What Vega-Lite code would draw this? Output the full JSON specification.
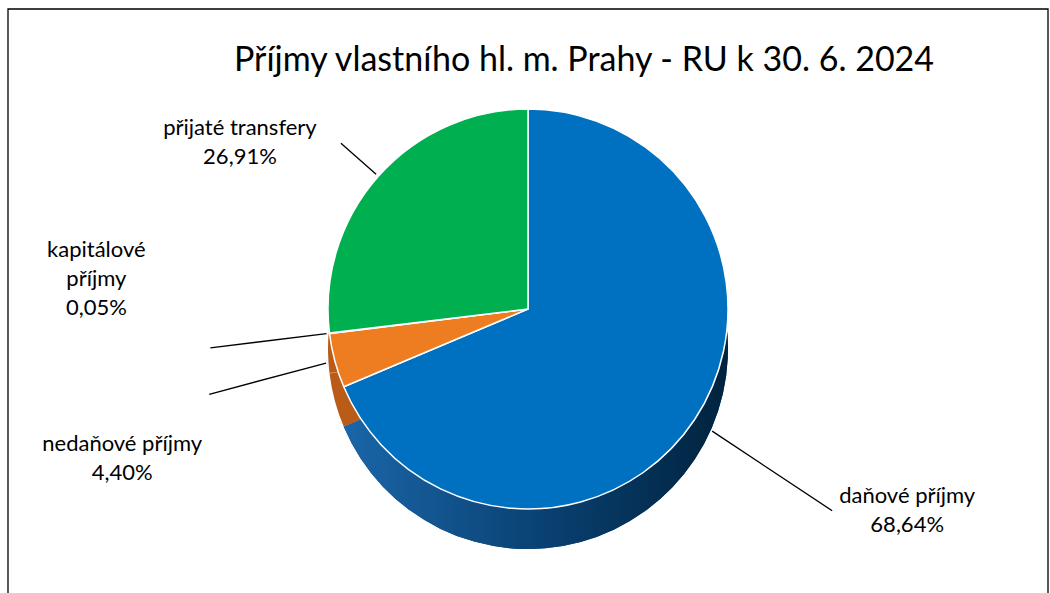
{
  "$schema": "https://vega.github.io/schema/vega-lite/v6.json",
  "width": 1040,
  "height": 600,
  "padding": {"left": 7, "top": 8, "right": 3, "bottom": 0},
  "background": "white",
  "config": {"view": {"stroke": "black", "strokeWidth": 1.3}, "font": "Lato"},
  "title": {
    "text": "Příjmy vlastního hl. m. Prahy - RU k 30. 6. 2024",
    "fontSize": 34, "font": "Lato", "fontWeight": "normal", "color": "#000000",
    "anchor": "middle", "dx": 56, "dy": 35, "offset": -62, "baseline": "alphabetic"
  },
  "data": {"values": [
    {"name": "daňové příjmy", "value": 68.64},
    {"name": "nedaňové příjmy", "value": 4.40},
    {"name": "kapitálové příjmy", "value": 0.05},
    {"name": "přijaté transfery", "value": 26.91}
  ]},
  "transform": [
    {"calculate": "indexof(['daňové příjmy','nedaňové příjmy','kapitálové příjmy','přijaté transfery'], datum.name)", "as": "ord"},
    {"window": [{"op": "sum", "field": "value", "as": "cum"}], "sort": [{"field": "ord"}], "frame": [null, 0]},
    {"calculate": "datum.cum - datum.value", "as": "start"},
    {"calculate": "datum.cum - datum.value / 2", "as": "mid"},
    {"calculate": "replace(datum.name, ' ', '|') + '|' + replace(format(datum.value, '.2f'), '.', ',') + '%'", "as": "label3"},
    {"calculate": "datum.name + '|' + replace(format(datum.value, '.2f'), '.', ',') + '%'", "as": "label"}
  ],
  "layer": [
    {
      "transform": [{"filter": "datum.name === 'daňové příjmy'"}],
      "mark": {"type": "rect", "fill": "white", "stroke": "black", "strokeWidth": 1.3},
      "encoding": {}
    },
    {
      "mark": {"type": "arc", "radius": 200, "yOffset": 40},
      "encoding": {
        "theta": {"field": "start", "type": "quantitative", "scale": {"domain": [0, 100]}},
        "theta2": {"field": "cum"},
        "fill": {"field": "name", "type": "nominal", "legend": null,
          "scale": {"domain": ["daňové příjmy", "nedaňové příjmy", "kapitálové příjmy", "přijaté transfery"],
                    "range": ["#0b4a82", "#b85c18", "#b85c18", "#b85c18"]}}
      }
    },
    {
      "transform": [{"filter": "datum.name === 'daňové příjmy'"}],
      "mark": {"type": "arc", "radius": 200, "yOffset": 40,
        "fill": {"gradient": "linear", "x1": 0, "y1": 0, "x2": 1, "y2": 0,
          "stops": [{"offset": 0, "color": "#1a66a8"}, {"offset": 0.5, "color": "#0a4274"}, {"offset": 1, "color": "#00233e"}]}},
      "encoding": {
        "theta": {"field": "start", "type": "quantitative", "scale": {"domain": [0, 100]}},
        "theta2": {"field": "cum"}
      }
    },
    {
      "mark": {"type": "arc", "radius": 200, "stroke": "white", "strokeWidth": 1.5},
      "encoding": {
        "theta": {"field": "start", "type": "quantitative", "scale": {"domain": [0, 100]}},
        "theta2": {"field": "cum"},
        "color": {"field": "name", "type": "nominal", "legend": null,
          "scale": {"domain": ["daňové příjmy", "nedaňové příjmy", "kapitálové příjmy", "přijaté transfery"],
                    "range": ["#0070C0", "#EE7D22", "#A5A5A5", "#00B050"]}}
      }
    },
    {
      "transform": [{"filter": "datum.name === 'daňové příjmy'"}],
      "mark": {"type": "arc", "radius": 365, "radius2": 221, "stroke": "black", "strokeWidth": 1.3, "fill": null},
      "encoding": {
        "theta": {"field": "mid", "type": "quantitative", "scale": {"domain": [0, 100]}},
        "theta2": {"field": "mid"}
      }
    },
    {
      "transform": [{"filter": "datum.name === 'nedaňové příjmy'"}],
      "mark": {"type": "arc", "radius": 330, "radius2": 209, "stroke": "black", "strokeWidth": 1.3, "fill": null},
      "encoding": {
        "theta": {"field": "mid", "type": "quantitative", "scale": {"domain": [0, 100]}},
        "theta2": {"field": "mid"}
      }
    },
    {
      "transform": [{"filter": "datum.name === 'kapitálové příjmy'"}],
      "mark": {"type": "arc", "radius": 320, "radius2": 203, "stroke": "black", "strokeWidth": 1.3, "fill": null},
      "encoding": {
        "theta": {"field": "mid", "type": "quantitative", "scale": {"domain": [0, 100]}},
        "theta2": {"field": "mid"}
      }
    },
    {
      "transform": [{"filter": "datum.name === 'přijaté transfery'"}],
      "mark": {"type": "arc", "radius": 250, "radius2": 203, "stroke": "black", "strokeWidth": 1.3, "fill": null},
      "encoding": {
        "theta": {"field": "mid", "type": "quantitative", "scale": {"domain": [0, 100]}},
        "theta2": {"field": "mid"}
      }
    },
    {
      "transform": [{"filter": "datum.name === 'daňové příjmy'"}],
      "mark": {"type": "text", "radius": 365, "dx": 75, "dy": -15, "fontSize": 22, "lineHeight": 29, "lineBreak": "|", "align": "center", "baseline": "middle", "color": "#000000"},
      "encoding": {
        "theta": {"field": "mid", "type": "quantitative", "scale": {"domain": [0, 100]}},
        "text": {"field": "label"}
      }
    },
    {
      "transform": [{"filter": "datum.name === 'nedaňové příjmy'"}],
      "mark": {"type": "text", "radius": 330, "dx": -87, "dy": 50, "fontSize": 22, "lineHeight": 29, "lineBreak": "|", "align": "center", "baseline": "middle", "color": "#000000"},
      "encoding": {
        "theta": {"field": "mid", "type": "quantitative", "scale": {"domain": [0, 100]}},
        "text": {"field": "label"}
      }
    },
    {
      "transform": [{"filter": "datum.name === 'kapitálové příjmy'"}],
      "mark": {"type": "text", "radius": 320, "dx": -114, "dy": -98, "fontSize": 22, "lineHeight": 29, "lineBreak": "|", "align": "center", "baseline": "middle", "color": "#000000"},
      "encoding": {
        "theta": {"field": "mid", "type": "quantitative", "scale": {"domain": [0, 100]}},
        "text": {"field": "label3"}
      }
    },
    {
      "transform": [{"filter": "datum.name === 'přijaté transfery'"}],
      "mark": {"type": "text", "radius": 250, "dx": -101, "dy": -15, "fontSize": 22, "lineHeight": 29, "lineBreak": "|", "align": "center", "baseline": "middle", "color": "#000000"},
      "encoding": {
        "theta": {"field": "mid", "type": "quantitative", "scale": {"domain": [0, 100]}},
        "text": {"field": "label"}
      }
    }
  ]
}
